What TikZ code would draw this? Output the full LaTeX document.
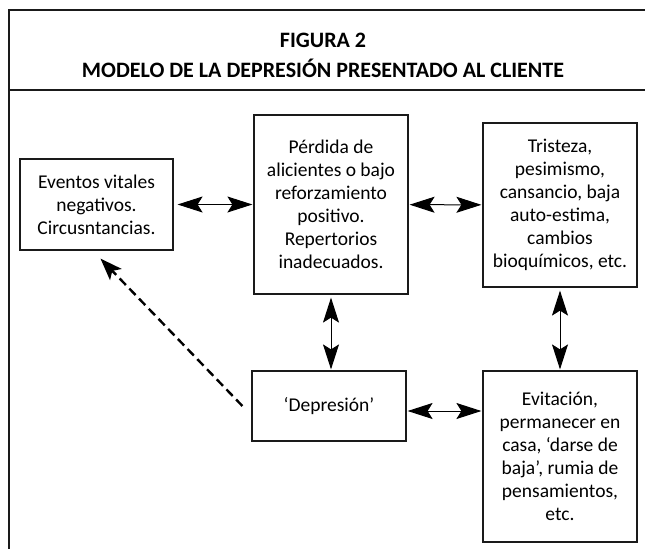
\documentclass[tikz,border=0pt]{standalone}
\usepackage{fontspec}
\setmainfont{Carlito}
\usepackage{tikz}
\usetikzlibrary{arrows.meta,calc}
\definecolor{ink}{HTML}{1A1A1A}
\tikzset{
  caja/.style={
    draw=ink,
    line width=1.2pt,
    align=center,
    inner sep=0pt,
    font=\fontsize{19.5}{23}\selectfont},
  flecha/.style={
    {Stealth[length=25pt,width=16pt,inset=5pt]}-{Stealth[length=25pt,width=16pt,inset=5pt]},
    line width=1pt,
    draw=black},
  punteada/.style={
    -{Stealth[length=22pt,width=16pt,inset=5pt]},
    line width=2.4pt,
    dash pattern=on 9pt off 5pt,
    draw=black}
  }
\begin{document}
\begin{tikzpicture}[x=1pt,y=-1pt]
		\useasboundingbox (0,0) rectangle (645,549);
		\draw [line width=2.2pt, ink] (645,10) -- (9,10) -- (9,549);
		\draw [line width=2.2pt, ink] (9,90) -- (645,90);
		\node (fig) at (323,40) {\fontsize{22}{26}\selectfont\bfseries FIGURA 2};
		\node (titulo) at (323,68) {\fontsize{22}{26}\selectfont\bfseries MODELO DE LA DEPRESIÓN PRESENTADO AL CLIENTE};
		\node [caja, minimum width=153pt, minimum height=91pt] (eventos) at (96.5,204.5) {Eventos vitales\\negativos.\\Circusntancias.};
		\node [caja, minimum width=154pt, minimum height=179pt] (perdida) at (331,204.5) {Pérdida de\\alicientes o bajo\\reforzamiento\\positivo.\\Repertorios\\inadecuados.};
		\node [caja, minimum width=154pt, minimum height=164pt] (tristeza) at (560,205) {Tristeza,\\pesimismo,\\cansancio, baja\\auto-estima,\\cambios\\bioquímicos, etc.};
		\node [caja, minimum width=154pt, minimum height=70pt] (depresion) at (329,406) {‘Depresión’};
		\node [caja, minimum width=154pt, minimum height=171pt] (evitacion) at (560,456.5) {Evitación,\\permanecer en\\casa, ‘darse de\\baja’, rumia de\\pensamientos,\\etc.};
		\coordinate (dsale) at ($(depresion.west)+(-9,0)$);
		\coordinate (dllega) at ($(eventos.south)+(4,8)$);
		\draw [flecha, shorten <=4pt, shorten >=1pt] (eventos) to (perdida);
		\draw [flecha, shorten <=1pt, shorten >=1pt] (perdida) to (tristeza);
		\draw [flecha, shorten <=3pt, shorten >=1pt] (perdida.south) to (perdida.south |- depresion.north);
		\draw [flecha, shorten <=3pt, shorten >=1pt] (tristeza) to (evitacion);
		\draw [flecha, shorten <=1pt, shorten >=1pt] ($(depresion.east)+(0,5)$) to ($(depresion.east -| evitacion.west)+(0,5)$);
		\draw [punteada] (dsale) to (dllega);
	\end{tikzpicture}
\end{document}
